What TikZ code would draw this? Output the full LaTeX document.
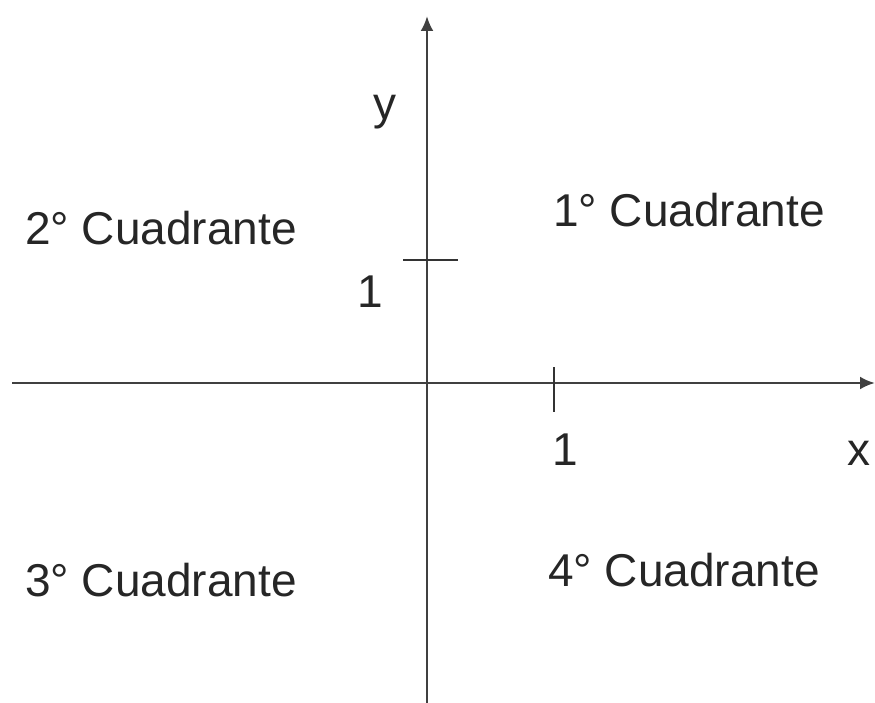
\documentclass[tikz,border=0pt]{standalone}
\usepackage{fontspec}
\setmainfont{Liberation Sans}
\usetikzlibrary{arrows.meta}
\begin{document}
\begin{tikzpicture}[x=1pt,y=-1pt,
  axis/.style={line width=2.6pt,draw=black!75,-{Latex[length=15pt,width=13pt]}},
  tick/.style={line width=2pt,draw=black!80},
  lbl/.style={font=\fontsize{46}{54}\selectfont,text=black!85,inner sep=0pt}]
\useasboundingbox (0,0) rectangle (875,703);
\coordinate (xs) at (12,383);
\coordinate (xe) at (875,383);
\coordinate (ys) at (427,703);
\coordinate (ye) at (427,16);
\draw[axis] (xs) -- (xe);
\draw[axis] (ys) -- (ye);
\coordinate (ty1) at (403,260);
\coordinate (ty2) at (458,260);
\coordinate (tx1) at (554,367);
\coordinate (tx2) at (554,412);
\draw[tick] (ty1) -- (ty2);
\draw[tick] (tx1) -- (tx2);
\node[lbl] (y) at (385,112) {y};
\node[lbl] (x) at (859,453) {x};
\node[lbl] (one y) at (370,292) {1};
\node[lbl] (one x) at (565,450) {1};
\node[lbl] (q1) at (689,210) {1° Cuadrante};
\node[lbl] (q2) at (161,228) {2° Cuadrante};
\node[lbl] (q3) at (161,580) {3° Cuadrante};
\node[lbl] (q4) at (684,570) {4° Cuadrante};
\end{tikzpicture}
\end{document}
